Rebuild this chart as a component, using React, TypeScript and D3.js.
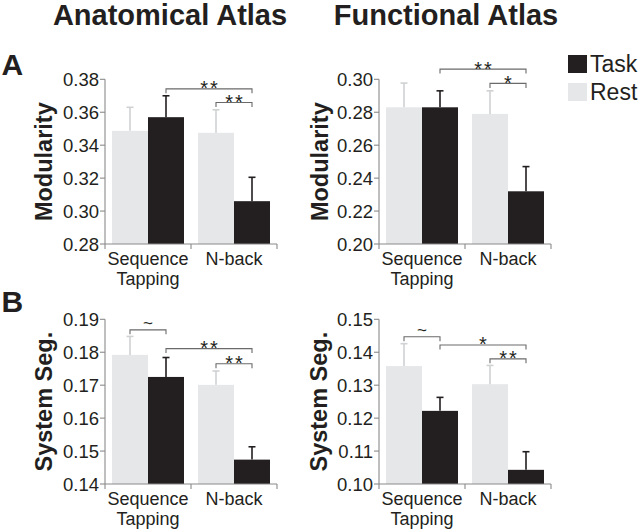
import React from "react";
import * as d3 from "d3";

// ---------- data ----------
const groups = ["Sequence Tapping", "N-back"];
const series = ["Rest", "Task"];

// Anatomical atlas, modularity
const anatModRest = [0.3487, 0.3475];
const anatModRestErr = [0.0143, 0.014];
const anatModTask = [0.357, 0.306];
const anatModTaskErr = [0.013, 0.0145];

// Functional atlas, modularity
const funcModRest = [0.283, 0.279];
const funcModRestErr = [0.0147, 0.014];
const funcModTask = [0.283, 0.232];
const funcModTaskErr = [0.01, 0.015];

// Anatomical atlas, system segregation
const anatSegRest = [0.1792, 0.1701];
const anatSegRestErr = [0.0056, 0.0042];
const anatSegTask = [0.1725, 0.1474];
const anatSegTaskErr = [0.0059, 0.0039];

// Functional atlas, system segregation
const funcSegRest = [0.1358, 0.1303];
const funcSegRestErr = [0.0068, 0.0057];
const funcSegTask = [0.1222, 0.1043];
const funcSegTaskErr = [0.0041, 0.0055];

const modAnatTicks = [0.28, 0.3, 0.32, 0.34, 0.36, 0.38];
const modFuncTicks = [0.2, 0.22, 0.24, 0.26, 0.28, 0.3];
const segAnatTicks = [0.14, 0.15, 0.16, 0.17, 0.18, 0.19];
const segFuncTicks = [0.1, 0.11, 0.12, 0.13, 0.14, 0.15];

// significance brackets: [group, series] -> [group, series], level (data units), label
type Bracket = { from: [number, string]; to: [number, string]; level: number; label: string };
const anatModBrackets: Bracket[] = [
  { from: [0, "Task"], to: [1, "Task"], level: 0.3742, label: "**" },
  { from: [1, "Rest"], to: [1, "Task"], level: 0.3659, label: "**" },
];
const funcModBrackets: Bracket[] = [
  { from: [0, "Task"], to: [1, "Task"], level: 0.3062, label: "**" },
  { from: [1, "Rest"], to: [1, "Task"], level: 0.2975, label: "*" },
];
const anatSegBrackets: Bracket[] = [
  { from: [0, "Rest"], to: [0, "Task"], level: 0.1868, label: "~" },
  { from: [0, "Task"], to: [1, "Task"], level: 0.1811, label: "**" },
  { from: [1, "Rest"], to: [1, "Task"], level: 0.1765, label: "**" },
];
const funcSegBrackets: Bracket[] = [
  { from: [0, "Rest"], to: [0, "Task"], level: 0.1447, label: "~" },
  { from: [0, "Task"], to: [1, "Task"], level: 0.1422, label: "*" },
  { from: [1, "Rest"], to: [1, "Task"], level: 0.138, label: "**" },
];

// ---------- style ----------
const FONT = "'Liberation Sans', Arial, Helvetica, sans-serif";
const REST = "#e6e7e8";
const TASK = "#231f20";
const REST_ERR = "#cfd1d2";
const AXIS = "#8a8a8a";
const BRACKET = "#6a6a6a";

type PanelProps = {
  x0: number;
  x1: number;
  y0: number;
  y1: number;
  domain: [number, number];
  ticks: number[];
  rest: number[];
  restErr: number[];
  task: number[];
  taskErr: number[];
  brackets: Bracket[];
  ylabel: string;
  labelOffset: number;
};

function Panel(p: PanelProps) {
  const y = d3.scaleLinear().domain(p.domain).range([p.y1, p.y0]);
  const xg = d3.scaleBand().domain(groups).range([p.x0, p.x1]).padding(0);
  const pad = 7;
  const xs = d3
    .scaleBand()
    .domain(series)
    .range([pad, xg.bandwidth() - pad])
    .padding(0);
  const vals: Record<string, number[]> = { Rest: p.rest, Task: p.task };
  const errs: Record<string, number[]> = { Rest: p.restErr, Task: p.taskErr };
  const cx = (gi: number, s: string) =>
    (xg(groups[gi]) as number) + (xs(s) as number) + xs.bandwidth() / 2;
  const fmt = d3.format(".2f");
  const edges = [p.x0, ...groups.map((g) => (xg(g) as number) + xg.bandwidth())];
  const yMid = (p.y0 + p.y1) / 2;
  const capW = 3.5;
  return (
    <g>
      {/* bars */}
      {groups.map((g, gi) =>
        series.map((s) => {
          const v = vals[s][gi];
          const x = (xg(g) as number) + (xs(s) as number);
          return (
            <rect
              key={g + s}
              x={x}
              y={y(v)}
              width={xs.bandwidth()}
              height={p.y1 - y(v)}
              fill={s === "Rest" ? REST : TASK}
            />
          );
        })
      )}
      {/* error bars */}
      {groups.map((g, gi) =>
        series.map((s) => {
          const v = vals[s][gi];
          const e = errs[s][gi];
          const c = cx(gi, s);
          const col = s === "Rest" ? REST_ERR : TASK;
          return (
            <g key={"e" + g + s} stroke={col} strokeWidth={1.6}>
              <line x1={c} x2={c} y1={y(v)} y2={y(v + e)} />
              <line x1={c - capW} x2={c + capW} y1={y(v + e)} y2={y(v + e)} />
            </g>
          );
        })
      )}
      {/* axes */}
      <g stroke={AXIS} strokeWidth={1.1} fill="none">
        <line x1={p.x0} x2={p.x0} y1={y(p.ticks[p.ticks.length - 1])} y2={p.y1} />
        <line x1={p.x0} x2={p.x1} y1={p.y1} y2={p.y1} />
        {p.ticks.map((t) => (
          <line key={t} x1={p.x0 - 5} x2={p.x0} y1={y(t)} y2={y(t)} />
        ))}
        {edges.map((e, i) => (
          <line key={i} x1={e} x2={e} y1={p.y1} y2={p.y1 + 5} />
        ))}
      </g>
      {p.ticks.map((t) => (
        <text
          key={"t" + t}
          x={p.x0 - 6}
          y={y(t)}
          dy="0.36em"
          textAnchor="end"
          fontSize={18.5}
          fontFamily={FONT}
          fill="#231f20"
        >
          {fmt(t)}
        </text>
      ))}
      {groups.map((g) => {
        const c = (xg(g) as number) + xg.bandwidth() / 2;
        const lines = g.split(" ");
        return (
          <text
            key={"g" + g}
            x={c}
            y={p.y1 + 21}
            textAnchor="middle"
            fontSize={18}
            fontFamily={FONT}
            fill="#231f20"
          >
            {lines.map((l, i) => (
              <tspan key={i} x={c} dy={i === 0 ? 0 : 20}>
                {l}
              </tspan>
            ))}
          </text>
        );
      })}
      {/* y label */}
      <text
        transform={`translate(${p.x0 + p.labelOffset},${yMid}) rotate(-90)`}
        textAnchor="middle"
        fontSize={23.5}
        fontWeight="bold"
        fontFamily={FONT}
        fill="#231f20"
      >
        {p.ylabel}
      </text>
      {/* brackets */}
      {p.brackets.map((b, i) => {
        const xa = cx(b.from[0], b.from[1]);
        const xb = cx(b.to[0], b.to[1]);
        const ly = y(b.level);
        const isTilde = b.label === "~";
        return (
          <g key={"b" + i}>
            <path
              d={`M${xa},${ly + 4.5}V${ly}H${xb}V${ly + 4.5}`}
              fill="none"
              stroke={BRACKET}
              strokeWidth={1.1}
            />
            <text
              x={(xa + xb) / 2 + (isTilde || b.label.length === 1 ? 0 : 1)}
              y={isTilde ? ly - 0.5 : ly + 6.5}
              textAnchor="middle"
              fontSize={isTilde ? 17 : 20}
              letterSpacing={isTilde || b.label.length === 1 ? 0 : 2}
              fontFamily={FONT}
              fill="#231f20"
            >
              {b.label}
            </text>
          </g>
        );
      })}
    </g>
  );
}

export default function App() {
  const W = 640;
  const H = 532;
  return (
    <svg
      width={W}
      height={H}
      viewBox={`0 0 ${W} ${H}`}
      style={{ position: "absolute", left: 0, top: 0, background: "#fff" }}
    >
      <rect width={W} height={H} fill="#fff" />
      <text x={170} y={25} textAnchor="middle" fontSize={29} fontWeight="bold" fontFamily={FONT} fill="#231f20">
        Anatomical Atlas
      </text>
      <text x={446} y={25} textAnchor="middle" fontSize={29} fontWeight="bold" fontFamily={FONT} fill="#231f20">
        Functional Atlas
      </text>
      <text x={1.5} y={75} fontSize={30} fontWeight="bold" fontFamily={FONT} fill="#231f20">
        A
      </text>
      <text x={1.5} y={311.5} fontSize={30} fontWeight="bold" fontFamily={FONT} fill="#231f20">
        B
      </text>

      {/* legend */}
      {series
        .slice()
        .reverse()
        .map((s, i) => (
          <g key={s}>
            <rect x={568} y={55 + i * 28} width={19} height={18} fill={s === "Rest" ? REST : TASK} />
            <text x={590} y={72 + i * 28} fontSize={23} fontFamily={FONT} fill="#231f20">
              {s}
            </text>
          </g>
        ))}

      <Panel
        x0={105}
        x1={277}
        y0={79.3}
        y1={244}
        domain={[0.28, 0.38]}
        ticks={modAnatTicks}
        rest={anatModRest}
        restErr={anatModRestErr}
        task={anatModTask}
        taskErr={anatModTaskErr}
        brackets={anatModBrackets}
        ylabel="Modularity"
        labelOffset={-53}
      />
      <Panel
        x0={379}
        x1={551}
        y0={79.3}
        y1={244}
        domain={[0.2, 0.3]}
        ticks={modFuncTicks}
        rest={funcModRest}
        restErr={funcModRestErr}
        task={funcModTask}
        taskErr={funcModTaskErr}
        brackets={funcModBrackets}
        ylabel="Modularity"
        labelOffset={-51}
      />
      <Panel
        x0={105}
        x1={277}
        y0={319.3}
        y1={484}
        domain={[0.14, 0.19]}
        ticks={segAnatTicks}
        rest={anatSegRest}
        restErr={anatSegRestErr}
        task={anatSegTask}
        taskErr={anatSegTaskErr}
        brackets={anatSegBrackets}
        ylabel="System Seg."
        labelOffset={-53}
      />
      <Panel
        x0={379}
        x1={551}
        y0={319.3}
        y1={484}
        domain={[0.1, 0.15]}
        ticks={segFuncTicks}
        rest={funcSegRest}
        restErr={funcSegRestErr}
        task={funcSegTask}
        taskErr={funcSegTaskErr}
        brackets={funcSegBrackets}
        ylabel="System Seg."
        labelOffset={-52}
      />
    </svg>
  );
}
